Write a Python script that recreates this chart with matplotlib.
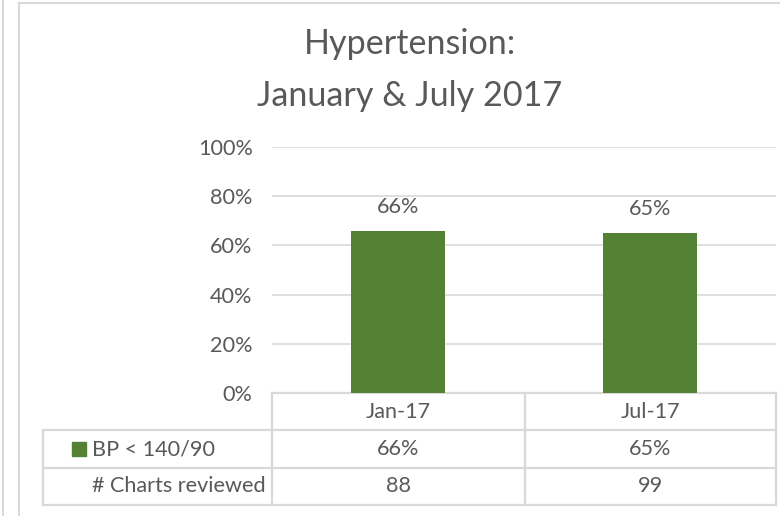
import matplotlib
matplotlib.use("Agg")
import matplotlib.pyplot as plt
from matplotlib.lines import Line2D
from matplotlib.patches import Rectangle

categories = ["Jan-17", "Jul-17"]
bp_values = [0.66, 0.65]
charts_reviewed = [88, 99]
series_name = "BP < 140/90"
row2_name = "# Charts reviewed"
y_ticks = [0, 0.2, 0.4, 0.6, 0.8, 1.0]
title_lines = ["Hypertension:", "January & July 2017"]

GREEN = "#548235"
TEXT = "#595959"
LINE = "#d9d9d9"
FONT = "Lato"
FS = 15.6
plt.rcParams["font.family"] = [FONT, "DejaVu Sans"]

W, H = 780, 516
fig = plt.figure(figsize=(W / 100, H / 100), dpi=100)

# overlay in pixel coordinates for layout (borders, table)
ov = fig.add_axes([0, 0, 1, 1])
ov.set_xlim(0, W)
ov.set_ylim(H, 0)
ov.axis("off")

ax_left, ax_right, ax_top, ax_bot = 272, 776, 147, 393
ax = fig.add_axes([ax_left / W, 1 - ax_bot / H, (ax_right - ax_left) / W, (ax_bot - ax_top) / H])
ax.set_zorder(2)
ax.patch.set_alpha(0)
x = list(range(len(categories)))
bars = ax.bar(x, bp_values, width=0.37, color=GREEN, zorder=3)
ax.set_xlim(-0.5, len(categories) - 0.5)
ax.set_ylim(0, 1)
ax.set_yticks(y_ticks)
ax.set_yticklabels([f"{int(round(v*100))}%" for v in y_ticks], fontsize=FS, color=TEXT)
ax.tick_params(axis="y", length=0, pad=14)
ax.set_xticks([])
ax.grid(axis="y", color=LINE, linewidth=1.2, zorder=0)
for s in ax.spines.values():
    s.set_visible(False)
for b, v in zip(bars, bp_values):
    ax.annotate(f"{int(round(v*100))}%", (b.get_x() + b.get_width() / 2, v),
                xytext=(0, 10), textcoords="offset points", ha="center", va="bottom",
                fontsize=FS, color=TEXT)

# title
ov.text(410, 54, title_lines[0], ha="center", va="baseline", fontsize=24.6, color=TEXT)
ov.text(410, 106, title_lines[1], ha="center", va="baseline", fontsize=24.6, color=TEXT)

# chart borders
ov.add_line(Line2D([2.5, 2.5], [0, H], color=LINE, lw=1.5))
ov.add_line(Line2D([18.5, 18.5], [2.5, H], color=LINE, lw=1.5))
ov.add_line(Line2D([18.5, W], [2.5, 2.5], color=LINE, lw=1.5))

# data table
col_edges = [43, 272, 525, 776]
row_edges = [393, 430, 468, 505]
lw_t = 1.6
ov.add_line(Line2D([272, 776], [row_edges[0]] * 2, color=LINE, lw=lw_t))
for r in row_edges[1:]:
    ov.add_line(Line2D([43, 776], [r, r], color=LINE, lw=lw_t))
ov.add_line(Line2D([43, 43], [row_edges[1], row_edges[3]], color=LINE, lw=lw_t))
for c in col_edges[1:]:
    ov.add_line(Line2D([c, c], [row_edges[0], row_edges[3]], color=LINE, lw=lw_t))

centers = [(col_edges[i + 1] + col_edges[i + 2]) / 2 for i in range(len(categories))]
rows_mid = [(row_edges[i] + row_edges[i + 1]) / 2 for i in range(3)]
for cx, cat, v, n in zip(centers, categories, bp_values, charts_reviewed):
    ov.text(cx, rows_mid[0], cat, ha="center", va="center", fontsize=FS, color=TEXT)
    ov.text(cx, rows_mid[1], f"{int(round(v*100))}%", ha="center", va="center", fontsize=FS, color=TEXT)
    ov.text(cx, rows_mid[2], str(n), ha="center", va="center", fontsize=FS, color=TEXT)

ov.add_patch(Rectangle((72, rows_mid[1] - 7), 14, 14, color=GREEN))
ov.text(92, rows_mid[1], series_name, ha="left", va="center", fontsize=FS, color=TEXT)
ov.text(266, rows_mid[2], row2_name, ha="right", va="center", fontsize=FS, color=TEXT)

fig.savefig("out.png", dpi=100)
